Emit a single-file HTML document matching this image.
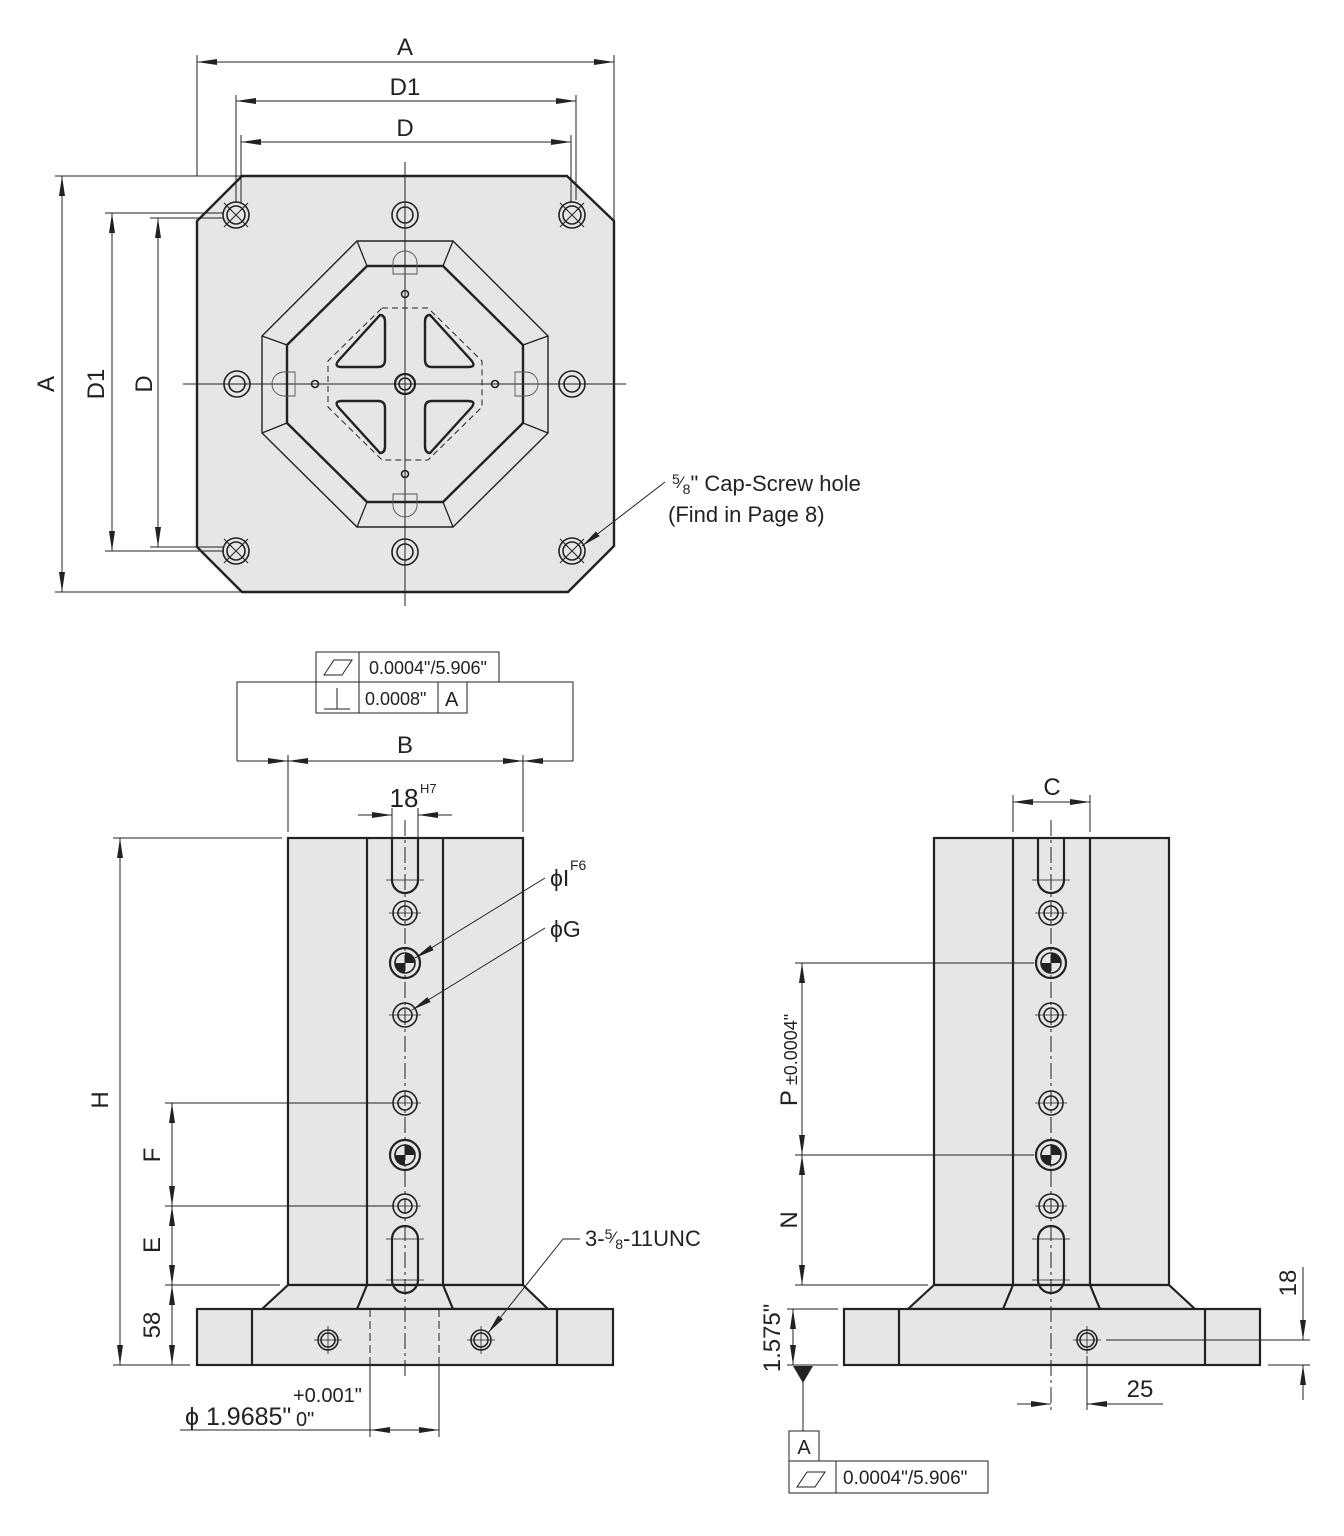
<!DOCTYPE html>
<html><head><meta charset="utf-8"><style>
html,body{margin:0;padding:0;background:#fff}
svg{display:block}
text{font-family:"Liberation Sans",Arial,sans-serif;fill:#222}
</style></head><body>
<svg width="1344" height="1536" viewBox="0 0 1344 1536" xmlns="http://www.w3.org/2000/svg">
<defs>
<marker id="ar" viewBox="0 0 20 8" refX="20" refY="4" markerWidth="20" markerHeight="8" markerUnits="userSpaceOnUse" orient="auto"><path d="M0,1 L20,4 L0,7 z" fill="#222"/></marker>
</defs>
<g stroke="#222" fill="none">

<!-- ============ TOP VIEW ============ -->
<path d="M242,176 L567,176 L614,221 L614,546 L568,592 L242,592 L197,547 L197,221 Z" fill="#e6e6e6" stroke-width="2.4"/>
<polygon points="357,241 453,241 548,336 548,433 453,527 357,527 262,433 262,336" stroke-width="1.4"/>
<polygon points="367,266 443,266 523,345 523,423 443,502 367,502 287,423 287,345" stroke-width="2.4"/>
<g stroke-width="1.3">
<line x1="357" y1="241" x2="367" y2="266"/><line x1="453" y1="241" x2="443" y2="266"/>
<line x1="548" y1="336" x2="523" y2="345"/><line x1="548" y1="433" x2="523" y2="423"/>
<line x1="453" y1="527" x2="443" y2="502"/><line x1="357" y1="527" x2="367" y2="502"/>
<line x1="262" y1="433" x2="287" y2="423"/><line x1="262" y1="336" x2="287" y2="345"/>
</g>
<polygon points="382,308 428,308 482,361 482,407 428,460 382,460 328,407 328,361" stroke-width="1" stroke-dasharray="6,4"/>
<g stroke-width="2.4">
<path d="M380,315 Q385,315 385,322 L385,360 Q385,367 378,367 L342,367 Q333,367 339,360 Z"/>
<path d="M430,315 Q425,315 425,322 L425,360 Q425,367 432,367 L468,367 Q477,367 471,360 Z"/>
<path d="M380,453 Q385,453 385,446 L385,408 Q385,401 378,401 L342,401 Q333,401 339,408 Z"/>
<path d="M430,453 Q425,453 425,446 L425,408 Q425,401 432,401 L468,401 Q477,401 471,408 Z"/>
</g>
<g stroke-width="1">
<line x1="405" y1="162" x2="405" y2="606"/>
<line x1="183" y1="384" x2="626" y2="384"/>
</g>
<g stroke-width="0.9" stroke="#555">
<path d="M393,274 L393,263 A12,12 0 0 1 417,263 L417,274 Z"/>
<path d="M393,494 L393,505 A12,12 0 0 0 417,505 L417,494 Z"/>
<path d="M295,372 L284,372 A12,12 0 0 0 284,396 L295,396 Z"/>
<path d="M515,372 L526,372 A12,12 0 0 1 526,396 L515,396 Z"/>
</g>
<g stroke-width="1.6">
<circle cx="405" cy="294" r="3.5"/><circle cx="405" cy="474" r="3.5"/>
<circle cx="315" cy="384" r="3.5"/><circle cx="495" cy="384" r="3.5"/>
<circle cx="405" cy="384" r="10" stroke-width="2.2"/><circle cx="405" cy="384" r="6"/>
</g>
<g stroke-width="1.6">
<circle cx="236" cy="215" r="13"/><circle cx="236" cy="215" r="9"/>
<circle cx="572" cy="215" r="13"/><circle cx="572" cy="215" r="9"/>
<circle cx="236" cy="551" r="13"/><circle cx="236" cy="551" r="9"/>
<circle cx="572" cy="551" r="13"/><circle cx="572" cy="551" r="9"/>
<path d="M224,203 L248,227 M248,203 L224,227 M560,203 L584,227 M584,203 L560,227 M224,539 L248,563 M248,539 L224,563 M560,539 L584,563 M584,539 L560,563" stroke-width="1"/>
<circle cx="405" cy="215" r="13"/><circle cx="405" cy="215" r="8"/>
<circle cx="405" cy="552" r="13"/><circle cx="405" cy="552" r="8"/>
<circle cx="237" cy="384" r="13"/><circle cx="237" cy="384" r="8"/>
<circle cx="572" cy="384" r="13"/><circle cx="572" cy="384" r="8"/>
</g>
<g stroke-width="1">
<line x1="197" y1="55" x2="197" y2="176"/><line x1="614" y1="55" x2="614" y2="221"/>
<line x1="236" y1="95" x2="236" y2="203"/><line x1="576" y1="95" x2="576" y2="200"/>
<line x1="241" y1="135" x2="241" y2="203"/><line x1="571" y1="135" x2="571" y2="203"/>
<line x1="405" y1="62" x2="197" y2="62" marker-end="url(#ar)"/><line x1="405" y1="62" x2="614" y2="62" marker-end="url(#ar)"/>
<line x1="405" y1="101" x2="236" y2="101" marker-end="url(#ar)"/><line x1="405" y1="101" x2="576" y2="101" marker-end="url(#ar)"/>
<line x1="405" y1="142" x2="241" y2="142" marker-end="url(#ar)"/><line x1="405" y1="142" x2="571" y2="142" marker-end="url(#ar)"/>
<line x1="55" y1="176" x2="242" y2="176"/><line x1="55" y1="592" x2="242" y2="592"/>
<line x1="105" y1="213" x2="224" y2="213"/><line x1="105" y1="551" x2="224" y2="551"/>
<line x1="150" y1="218" x2="224" y2="218"/><line x1="150" y1="547" x2="224" y2="547"/>
<line x1="62" y1="384" x2="62" y2="176" marker-end="url(#ar)"/><line x1="62" y1="384" x2="62" y2="592" marker-end="url(#ar)"/>
<line x1="112" y1="384" x2="112" y2="213" marker-end="url(#ar)"/><line x1="112" y1="384" x2="112" y2="551" marker-end="url(#ar)"/>
<line x1="158" y1="384" x2="158" y2="218" marker-end="url(#ar)"/><line x1="158" y1="384" x2="158" y2="547" marker-end="url(#ar)"/>
<line x1="665" y1="482" x2="582" y2="546" marker-end="url(#ar)"/>
</g>

<!-- ============ FRONT VIEW ============ -->
<g stroke-width="2.2">
<rect x="288" y="838" width="235" height="447" fill="#e6e6e6"/>
<path d="M288,1285 L262,1309 L548,1309 L523,1285 Z" fill="#e6e6e6"/>
<rect x="197" y="1309" width="416" height="56" fill="#e6e6e6"/>
<line x1="367" y1="838" x2="367" y2="1285"/><line x1="443" y1="838" x2="443" y2="1285"/>
<line x1="367" y1="1285" x2="357" y2="1309"/><line x1="443" y1="1285" x2="453" y2="1309"/>
<line x1="252" y1="1309" x2="252" y2="1365"/><line x1="557" y1="1309" x2="557" y2="1365"/>
<path d="M392,838 L392,880 A13,13 0 0 0 418,880 L418,838"/>
<path d="M392,1239 A13,13 0 0 1 418,1239 L418,1280 A13,13 0 0 1 392,1280 Z"/>
</g>
<g stroke-width="1" stroke-dasharray="8,4">
<line x1="370" y1="1309" x2="370" y2="1365"/><line x1="439" y1="1309" x2="439" y2="1365"/>
</g>
<line x1="405" y1="820" x2="405" y2="1380" stroke-width="1" stroke-dasharray="16,4,3,4"/>

<!-- ============ SIDE VIEW ============ -->
<g stroke-width="2.2">
<rect x="934" y="838" width="235" height="447" fill="#e6e6e6"/>
<path d="M934,1285 L908,1309 L1195,1309 L1169,1285 Z" fill="#e6e6e6"/>
<rect x="844" y="1309" width="416" height="56" fill="#e6e6e6"/>
<line x1="1013" y1="838" x2="1013" y2="1285"/><line x1="1090" y1="838" x2="1090" y2="1285"/>
<line x1="1013" y1="1285" x2="1003" y2="1309"/><line x1="1090" y1="1285" x2="1100" y2="1309"/>
<line x1="899" y1="1309" x2="899" y2="1365"/><line x1="1205" y1="1309" x2="1205" y2="1365"/>
<path d="M1038,838 L1038,880 A13,13 0 0 0 1064,880 L1064,838"/>
<path d="M1038,1239 A13,13 0 0 1 1064,1239 L1064,1280 A13,13 0 0 1 1038,1280 Z"/>
</g>
<line x1="1051" y1="820" x2="1051" y2="1410" stroke-width="1" stroke-dasharray="16,4,3,4"/>

<g stroke-width="1.6">
<circle cx="405" cy="913" r="12"/><circle cx="405" cy="913" r="7"/>
<circle cx="405" cy="1015" r="12"/><circle cx="405" cy="1015" r="7"/>
<circle cx="405" cy="1103" r="12"/><circle cx="405" cy="1103" r="7"/>
<circle cx="405" cy="1206" r="12"/><circle cx="405" cy="1206" r="7"/>
<circle cx="405" cy="963" r="15" stroke-width="2.2"/><circle cx="405" cy="963" r="10"/>
<circle cx="405" cy="1155" r="15" stroke-width="2.2"/><circle cx="405" cy="1155" r="10"/>
<circle cx="1051" cy="913" r="12"/><circle cx="1051" cy="913" r="7"/>
<circle cx="1051" cy="1015" r="12"/><circle cx="1051" cy="1015" r="7"/>
<circle cx="1051" cy="1103" r="12"/><circle cx="1051" cy="1103" r="7"/>
<circle cx="1051" cy="1206" r="12"/><circle cx="1051" cy="1206" r="7"/>
<circle cx="1051" cy="963" r="15" stroke-width="2.2"/><circle cx="1051" cy="963" r="10"/>
<circle cx="1051" cy="1155" r="15" stroke-width="2.2"/><circle cx="1051" cy="1155" r="10"/>
<circle cx="328" cy="1340" r="10"/><circle cx="328" cy="1340" r="7"/>
<circle cx="481" cy="1340" r="10"/><circle cx="481" cy="1340" r="7"/>
<circle cx="1087" cy="1340" r="10"/><circle cx="1087" cy="1340" r="7"/>
</g>
<g fill="#222" stroke="none">
<path d="M405,963 L395,963 A10,10 0 0 0 405,973 Z M405,963 L415,963 A10,10 0 0 0 405,953 Z"/>
<path d="M405,1155 L395,1155 A10,10 0 0 0 405,1165 Z M405,1155 L415,1155 A10,10 0 0 0 405,1145 Z"/>
<path d="M1051,963 L1041,963 A10,10 0 0 0 1051,973 Z M1051,963 L1061,963 A10,10 0 0 0 1051,953 Z"/>
<path d="M1051,1155 L1041,1155 A10,10 0 0 0 1051,1165 Z M1051,1155 L1061,1155 A10,10 0 0 0 1051,1145 Z"/>
</g>
<g stroke-width="0.8">
<path d="M389,913 H421 M389,1015 H421 M389,1103 H421 M389,1206 H421 M1035,913 H1067 M1035,1015 H1067 M1035,1103 H1067 M1035,1206 H1067"/>
<path d="M314,1340 H342 M328,1326 V1354 M467,1340 H495 M481,1326 V1354 M1073,1340 H1101 M1087,1326 V1354"/>
<path d="M386,880 H424 M386,1239 H424 M386,1280 H424 M1032,880 H1070 M1032,1239 H1070 M1032,1280 H1070"/>
</g>

<g stroke-width="1">
<polyline points="237,761 237,682 573,682 573,761"/>
<line x1="237" y1="761" x2="288" y2="761" marker-end="url(#ar)"/>
<line x1="573" y1="761" x2="523" y2="761" marker-end="url(#ar)"/>
<line x1="405" y1="761" x2="288" y2="761" marker-end="url(#ar)"/>
<line x1="405" y1="761" x2="523" y2="761" marker-end="url(#ar)"/>
<line x1="288" y1="755" x2="288" y2="832"/><line x1="523" y1="755" x2="523" y2="832"/>
<line x1="392" y1="808" x2="392" y2="838"/><line x1="418" y1="808" x2="418" y2="838"/>
<line x1="358" y1="815" x2="392" y2="815" marker-end="url(#ar)"/>
<line x1="452" y1="815" x2="418" y2="815" marker-end="url(#ar)"/>
<line x1="113" y1="838" x2="282" y2="838"/><line x1="113" y1="1365" x2="190" y2="1365"/>
<line x1="120" y1="1100" x2="120" y2="838" marker-end="url(#ar)"/><line x1="120" y1="1100" x2="120" y2="1365" marker-end="url(#ar)"/>
<line x1="165" y1="1103" x2="392" y2="1103"/><line x1="165" y1="1206" x2="392" y2="1206"/><line x1="165" y1="1285" x2="280" y2="1285"/>
<line x1="172" y1="1155" x2="172" y2="1103" marker-end="url(#ar)"/><line x1="172" y1="1155" x2="172" y2="1206" marker-end="url(#ar)"/>
<line x1="172" y1="1245" x2="172" y2="1206" marker-end="url(#ar)"/><line x1="172" y1="1245" x2="172" y2="1285" marker-end="url(#ar)"/>
<line x1="172" y1="1325" x2="172" y2="1285" marker-end="url(#ar)"/><line x1="172" y1="1325" x2="172" y2="1365" marker-end="url(#ar)"/>
<line x1="545" y1="878" x2="415" y2="958" marker-end="url(#ar)"/>
<line x1="545" y1="928" x2="412" y2="1010" marker-end="url(#ar)"/>
<polyline points="580,1239 563,1239"/>
<line x1="563" y1="1239" x2="488" y2="1333" marker-end="url(#ar)"/>
<line x1="370" y1="1365" x2="370" y2="1437"/><line x1="439" y1="1365" x2="439" y2="1437"/>
<line x1="180" y1="1430" x2="370" y2="1430"/>
<line x1="404" y1="1430" x2="370" y2="1430" marker-end="url(#ar)"/>
<line x1="404" y1="1430" x2="439" y2="1430" marker-end="url(#ar)"/>
</g>

<g stroke-width="1" fill="#fff">
<rect x="316" y="652" width="183" height="30"/>
<line x1="359" y1="652" x2="359" y2="682"/>
<rect x="316" y="682" width="151" height="31"/>
<line x1="359" y1="682" x2="359" y2="713"/><line x1="438" y1="682" x2="438" y2="713"/>
<path d="M324,675 L334,660 L352,660 L342,675 Z" fill="none"/>
<path d="M324,709 H350 M337,709 V688" fill="none"/>
</g>

<g stroke-width="1">
<line x1="1013" y1="795" x2="1013" y2="832"/><line x1="1090" y1="795" x2="1090" y2="832"/>
<line x1="1051" y1="802" x2="1013" y2="802" marker-end="url(#ar)"/><line x1="1051" y1="802" x2="1090" y2="802" marker-end="url(#ar)"/>
<line x1="795" y1="963" x2="1034" y2="963"/><line x1="795" y1="1155" x2="1034" y2="1155"/><line x1="795" y1="1285" x2="928" y2="1285"/>
<line x1="802" y1="1060" x2="802" y2="963" marker-end="url(#ar)"/><line x1="802" y1="1060" x2="802" y2="1155" marker-end="url(#ar)"/>
<line x1="802" y1="1220" x2="802" y2="1155" marker-end="url(#ar)"/><line x1="802" y1="1220" x2="802" y2="1285" marker-end="url(#ar)"/>
<line x1="787" y1="1309" x2="838" y2="1309"/><line x1="787" y1="1365" x2="838" y2="1365"/>
<line x1="793" y1="1337" x2="793" y2="1309" marker-end="url(#ar)"/><line x1="793" y1="1337" x2="793" y2="1365" marker-end="url(#ar)"/>
<line x1="1106" y1="1340" x2="1310" y2="1340"/><line x1="1268" y1="1365" x2="1310" y2="1365"/>
<line x1="1303" y1="1267" x2="1303" y2="1340" marker-end="url(#ar)"/>
<line x1="1303" y1="1400" x2="1303" y2="1365" marker-end="url(#ar)"/>
<line x1="1087" y1="1356" x2="1087" y2="1410"/>
<line x1="1017" y1="1404" x2="1051" y2="1404" marker-end="url(#ar)"/>
<line x1="1163" y1="1404" x2="1087" y2="1404" marker-end="url(#ar)"/>
<line x1="803" y1="1380" x2="803" y2="1431"/>
</g>
<path d="M793,1366 L813,1366 L803,1383 Z" fill="#222" stroke="none"/>
<g stroke-width="1" fill="#fff">
<rect x="789" y="1431" width="30" height="30"/>
<rect x="789" y="1461" width="199" height="32"/>
<line x1="836" y1="1461" x2="836" y2="1493"/>
<path d="M797,1487 L807,1472 L825,1472 L815,1487 Z" fill="none"/>
</g>
</g>

<g font-size="24">
<text x="405" y="55" text-anchor="middle">A</text>
<text x="405" y="95" text-anchor="middle">D1</text>
<text x="405" y="136" text-anchor="middle">D</text>
<text transform="translate(54,384) rotate(-90)" text-anchor="middle">A</text>
<text transform="translate(104,384) rotate(-90)" text-anchor="middle">D1</text>
<text transform="translate(152,384) rotate(-90)" text-anchor="middle">D</text>
<text x="672" y="491" font-size="22"><tspan font-size="14" dy="-7">5</tspan><tspan font-size="17" dy="4">⁄</tspan><tspan font-size="14" dy="6">8</tspan><tspan dy="-3">" Cap-Screw hole</tspan></text>
<text x="668" y="522" font-size="22">(Find in Page 8)</text>

<text x="369" y="674" font-size="18">0.0004"/5.906"</text>
<text x="365" y="705" font-size="18">0.0008"</text>
<text x="445" y="706" font-size="20">A</text>
<text x="405" y="753" text-anchor="middle">B</text>
<text x="404" y="807" text-anchor="middle" font-size="26">18</text>
<text x="420" y="793" font-size="13">H7</text>
<text x="550" y="886" font-size="23">ϕI</text>
<text x="570" y="870" font-size="14">F6</text>
<text x="550" y="937" font-size="23">ϕG</text>
<text x="585" y="1246" font-size="22">3-<tspan font-size="14" dy="-7">5</tspan><tspan font-size="17" dy="4">⁄</tspan><tspan font-size="14" dy="6">8</tspan><tspan dy="-3">-11UNC</tspan></text>
<text transform="translate(108,1100) rotate(-90)" text-anchor="middle">H</text>
<text transform="translate(160,1155) rotate(-90)" text-anchor="middle">F</text>
<text transform="translate(160,1245) rotate(-90)" text-anchor="middle">E</text>
<text transform="translate(160,1325) rotate(-90)" text-anchor="middle">58</text>
<text x="185" y="1425" font-size="25">ϕ  1.9685"</text>
<text x="293" y="1402" font-size="20">+0.001"</text>
<text x="296" y="1426" font-size="20">0"</text>

<text x="1052" y="795" text-anchor="middle">C</text>
<text transform="translate(797,1060) rotate(-90)" text-anchor="middle"><tspan font-size="24">P</tspan><tspan font-size="18"> ±0.0004"</tspan></text>
<text transform="translate(797,1220) rotate(-90)" text-anchor="middle">N</text>
<text transform="translate(780,1338) rotate(-90)" text-anchor="middle">1.575"</text>
<text transform="translate(1296,1283) rotate(-90)" text-anchor="middle">18</text>
<text x="1140" y="1397" text-anchor="middle">25</text>
<text x="804" y="1454" text-anchor="middle" font-size="20">A</text>
<text x="843" y="1484" font-size="19">0.0004"/5.906"</text>
</g>
</svg>
</body></html>
